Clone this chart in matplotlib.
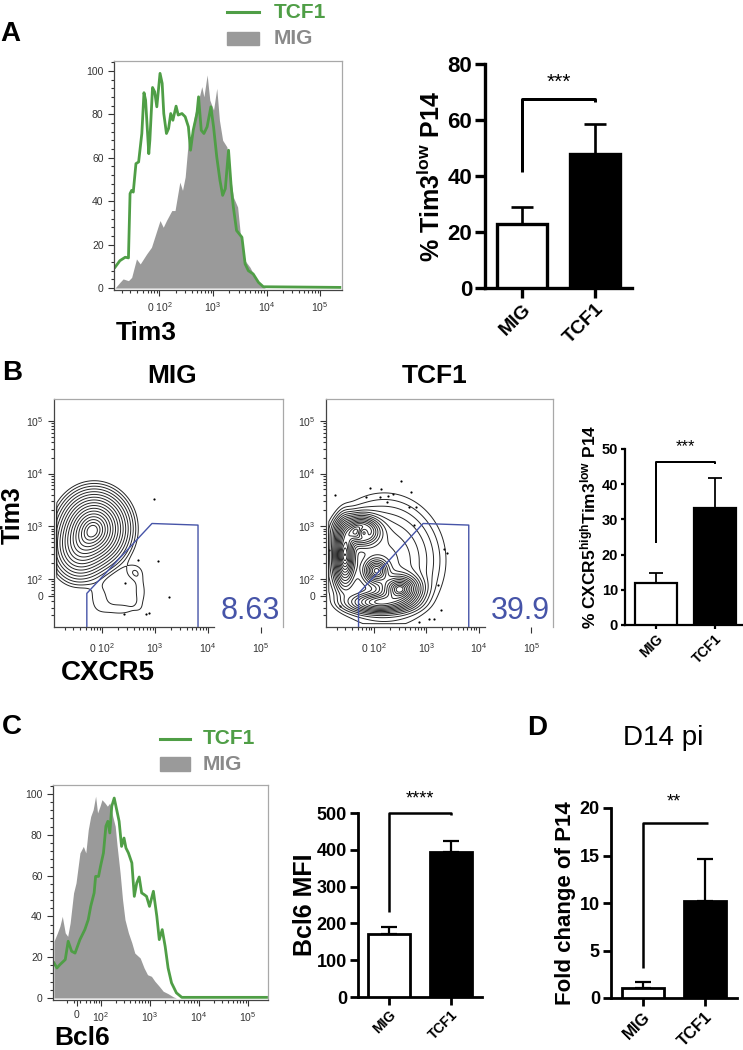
import numpy as np
import matplotlib
matplotlib.use("Agg")
import matplotlib.pyplot as plt
from matplotlib.lines import Line2D
from matplotlib.patches import Rectangle
from matplotlib.ticker import FixedLocator, MultipleLocator

plt.rcParams['font.family'] = ['Liberation Sans', 'DejaVu Sans']
plt.rcParams['mathtext.fontset'] = 'custom'
plt.rcParams['mathtext.rm'] = 'Liberation Sans'
plt.rcParams['mathtext.bf'] = 'Liberation Sans:bold'
plt.rcParams['mathtext.it'] = 'Liberation Sans:italic'

GREEN = '#4f9e46'
GREY = '#9a9a9a'
GATE = '#4654a8'

groups = ['MIG', 'TCF1']

# ---- panel A histogram (x in decades of the biexponential axis, y in % of max)
a_tcf1_x = [1.17, 1.26, 1.36, 1.42, 1.45, 1.48, 1.51, 1.56, 1.61, 1.67, 1.71, 1.74, 1.80, 1.82,
            1.87, 1.91, 1.95, 2.01, 2.05, 2.08, 2.13, 2.17, 2.21, 2.25, 2.31, 2.35, 2.42, 2.48,
            2.54, 2.58, 2.63, 2.70, 2.73, 2.78, 2.83, 2.89, 2.96, 3.01, 3.07, 3.13, 3.18, 3.23,
            3.29, 3.34, 3.38, 3.44, 3.54, 3.60, 3.66, 3.75, 3.85, 3.94, 5.37]
a_tcf1_y = [9.6, 12.6, 14.2, 13.9, 43.5, 45.0, 44.2, 57.3, 58.1, 71.2, 90.0, 86.6, 61.9, 68.1,
            92.4, 90.4, 83.5, 98.9, 94.3, 80.4, 71.2, 73.5, 80.4, 77.3, 83.8, 79.7, 80.4, 78.9,
            74.3, 63.5, 72.7, 80.4, 88.1, 72.7, 71.2, 74.3, 83.5, 74.3, 60.4, 49.6, 42.7, 45.8,
            63.5, 46.5, 37.3, 26.5, 23.4, 11.1, 8.0, 6.5, 2.6, 0.6, 0.3]
a_mig_x = [1.17, 1.26, 1.32, 1.42, 1.48, 1.57, 1.64, 1.76, 1.85, 1.95, 2.01, 2.07, 2.13, 2.23,
           2.29, 2.38, 2.43, 2.48, 2.54, 2.60, 2.66, 2.73, 2.79, 2.83, 2.89, 2.94, 3.01, 3.07,
           3.12, 3.18, 3.26, 3.32, 3.38, 3.46, 3.51, 3.60, 3.69, 3.79, 3.88, 3.97]
a_mig_y = [0.0, 2.6, 4.2, 3.4, 4.9, 13.4, 11.1, 15.7, 18.8, 26.5, 31.1, 28.0, 31.1, 35.7,
           35.7, 48.8, 45.0, 51.2, 68.1, 71.2, 80.4, 86.6, 92.8, 88.1, 98.2, 86.6, 82.0, 92.0,
           77.3, 68.1, 65.0, 52.7, 41.9, 37.3, 25.0, 12.6, 9.6, 4.9, 1.8, 0.3]

# ---- panel A bars
a_mean = [22.8, 47.9]
a_sem = [6.2, 10.5]
a_bracket = [41.4, 67.4, 66.4]

# ---- panel B contour populations (x, y in decades; spread; weight)
b_mig_cx = [1.85, 1.55, 1.95, 2.35, 2.72, 2.60]
b_mig_cy = [2.95, 2.55, 1.62, 1.42, 1.75, 2.12]
b_mig_sx = [0.30, 0.25, 0.15, 0.25, 0.10, 0.12]
b_mig_sy = [0.33, 0.30, 0.20, 0.10, 0.25, 0.12]
b_mig_w = [1.0, 0.35, 0.028, 0.028, 0.028, 0.028]
b_mig_ev_x = [2.98, 2.68, 3.06, 2.43, 3.27, 2.41, 2.83, 2.89]
b_mig_ev_y = [3.51, 2.35, 2.33, 1.91, 1.65, 1.32, 1.32, 1.34]

b_tcf_cx = [1.75, 1.45, 2.05, 2.50, 2.10, 2.20, 1.80]
b_tcf_cy = [2.90, 2.45, 2.15, 1.80, 1.55, 2.35, 2.88]
b_tcf_sx = [0.20, 0.10, 0.13, 0.20, 0.30, 0.55, 0.07]
b_tcf_sy = [0.15, 0.30, 0.13, 0.15, 0.10, 0.60, 0.07]
b_tcf_w = [1.0, 0.9, 0.7, 0.9, 0.6, 0.2, -0.5]
b_tcf_ev_x = [1.26, 1.86, 1.92, 2.14, 2.11, 2.27, 2.36, 2.25, 2.52, 2.71, 2.68, 2.81, 2.77,
              3.34, 3.39, 3.22, 3.29, 2.86, 3.05, 3.15, 1.35, 1.15]
b_tcf_ev_y = [3.59, 3.56, 3.72, 3.70, 3.56, 3.57, 3.62, 3.45, 3.86, 3.65, 3.36, 3.36, 3.02,
              2.56, 2.48, 1.88, 1.40, 1.17, 1.23, 1.23, 1.48, 2.54]

gate_x = [1.71, 1.71, 2.94, 3.81, 3.81]
gate_y = [1.08, 1.72, 3.05, 3.02, 1.08]
b_pct = ['8.63', '39.9']

# ---- panel B bars
b_mean = [11.8, 33.2]
b_sem = [3.0, 8.7]
b_bracket = [23.3, 46.3, 45.7]

# ---- panel C histogram
c_tcf1_x = [1.04, 1.10, 1.16, 1.27, 1.33, 1.40, 1.47, 1.57, 1.67, 1.74, 1.79, 1.86, 1.89, 1.95,
            1.99, 2.05, 2.10, 2.14, 2.18, 2.22, 2.27, 2.32, 2.37, 2.42, 2.47, 2.51, 2.56, 2.63,
            2.68, 2.73, 2.78, 2.83, 2.88, 2.93, 2.99, 3.07, 3.14, 3.19, 3.25, 3.31, 3.37, 3.44,
            3.54, 3.65, 5.38]
c_tcf1_y = [17.2, 14.7, 16.3, 18.8, 27.8, 22.9, 22.0, 28.6, 33.5, 38.4, 44.9, 51.5, 59.6, 59.6,
            64.5, 71.1, 84.2, 86.6, 80.9, 94.0, 98.0, 92.3, 86.6, 74.3, 78.4, 73.5, 71.1, 66.2,
            49.8, 56.4, 59.3, 51.5, 50.7, 49.8, 44.9, 52.3, 40.0, 28.6, 33.5, 25.3, 14.7, 7.4,
            2.5, 0.3, 0.3]
c_mig_x = [1.04, 1.11, 1.16, 1.21, 1.27, 1.32, 1.37, 1.44, 1.49, 1.57, 1.64, 1.69, 1.74, 1.79,
           1.84, 1.89, 1.93, 1.98, 2.02, 2.08, 2.13, 2.18, 2.24, 2.29, 2.33, 2.39, 2.44, 2.49,
           2.56, 2.63, 2.69, 2.80, 2.88, 2.95, 3.03, 3.10, 3.19, 3.27, 3.37, 3.48, 3.54]
c_mig_y = [27.8, 31.9, 35.1, 40.0, 31.9, 30.2, 36.8, 51.5, 56.4, 71.1, 74.3, 71.1, 82.5, 89.0,
           92.3, 98.9, 90.7, 94.0, 97.2, 95.6, 94.0, 95.6, 89.0, 84.2, 74.3, 61.3, 48.2, 38.4,
           31.9, 27.0, 22.0, 19.6, 14.7, 11.4, 10.6, 8.2, 5.7, 3.3, 2.1, 0.5, 0.0]

# ---- panel C and D bars
c_mean = [171, 395]
c_sem = [19, 30]
c_bracket = [231, 500, 495]
d_mean = [1.05, 10.2]
d_sem = [0.65, 4.4]
d_bracket = [3.2, 18.4, 18.4]

W, H = 743, 1050
fig = plt.figure(figsize=(W / 100, H / 100), dpi=100)


def box(l, t, r, b):
    return fig.add_axes([l / W, 1 - b / H, (r - l) / W, (b - t) / H])


def ftext(x, y, s, **kw):
    fig.text(x / W, 1 - y / H, s, **kw)


dec_minor = [d + np.log10(k) for d in (2, 3, 4) for k in range(2, 10)]
low_minor = [1.3, 1.45, 1.58, 1.7, 1.78, 1.85, 1.9, 1.95]
dec_labels = ['$10^3$', '$10^4$', '$10^5$']


def style_flow(ax):
    for s in ('top', 'right'):
        ax.spines[s].set_color('#a8a8a8')
    for s in ('left', 'bottom'):
        ax.spines[s].set_color('#444444')
    for s in ax.spines.values():
        s.set_linewidth(0.9)
    ax.tick_params(which='both', labelsize=7.5, colors='#333333', width=0.8)
    ax.tick_params(which='major', length=4)
    ax.tick_params(which='minor', length=2)


def hist_panel(ax, gx, gy, tx, ty, xlim, ylim, ticks, labels):
    ax.fill_between(gx, gy, 0, color=GREY, lw=0, zorder=1)
    ax.plot(tx, ty, color=GREEN, lw=2.0, zorder=2)
    ax.set_xlim(xlim)
    ax.set_ylim(ylim)
    ax.set_yticks([0, 20, 40, 60, 80, 100])
    ax.yaxis.set_minor_locator(MultipleLocator(4))
    ax.set_xticks(ticks)
    ax.set_xticklabels(labels)
    ax.xaxis.set_minor_locator(FixedLocator(low_minor + dec_minor))
    style_flow(ax)


def contour_panel(ax, cx, cy, sx, sy, w, ev_x, ev_y, pct):
    gx = np.linspace(1.09, 5.42, 400)
    gy = np.linspace(1.08, 5.42, 400)
    X, Y = np.meshgrid(gx, gy)
    Z = np.zeros_like(X)
    for mx, my, ssx, ssy, ww in zip(cx, cy, sx, sy, w):
        Z += ww * np.exp(-0.5 * (((X - mx) / ssx) ** 2 + ((Y - my) / ssy) ** 2))
    Z = np.clip(Z, 0, None)
    Z[X < 1.14] = 0
    Z[Y < 1.14] = 0
    # rings roughly evenly spaced in radius, like probability contours
    radii = np.linspace(2.8, 0.3, 17)
    levels = Z.max() * np.exp(-0.5 * radii ** 2)
    ax.contour(X, Y, Z, levels=levels, colors='#262626', linewidths=0.7)
    ax.scatter(ev_x, ev_y, s=2.5, color='black', lw=0)
    ax.plot(gate_x, gate_y, color=GATE, lw=1.0)
    ax.set_xlim(1.09, 5.415)
    ax.set_ylim(1.08, 5.42)
    ax.set_yticks([1.67, 2, 3, 4, 5])
    ax.set_yticklabels(['0', '$10^2$'] + dec_labels)
    ax.yaxis.set_minor_locator(FixedLocator(low_minor + dec_minor))
    ax.set_xticks([2, 3, 4, 5])
    ax.set_xticklabels(['0 $10^2$'] + dec_labels)
    ax.xaxis.set_minor_locator(FixedLocator(low_minor + dec_minor[:-8]))
    style_flow(ax)
    ax.spines['bottom'].set_bounds(1.09, 4.12)
    ax.tick_params(axis='x', pad=6)
    ax.text(0.985, 0.004, pct, transform=ax.transAxes, ha='right', va='bottom',
            fontsize=22, color=GATE, zorder=5,
            bbox=dict(facecolor='white', edgecolor='none', pad=0.5))


def bar_panel(ax, mean, sem, ytop, yticks, xlim, width, lw, tick_fs, xt_fs, cap,
              bracket, stars, star_y, star_fs, bracket_right=1.0, tick_len=None):
    ax.bar([0, 1], mean, width=width, color=['white', 'black'], edgecolor='black',
           linewidth=lw, zorder=3)
    ax.errorbar([0, 1], mean, yerr=[[0, 0], sem], fmt='none', ecolor='black',
                elinewidth=lw * 0.8, capsize=cap, capthick=lw * 0.8, zorder=2)
    ax.plot([0, 0, bracket_right, bracket_right],
            [bracket[0], bracket[1], bracket[1], bracket[2]],
            color='black', lw=lw * 0.9, clip_on=False, solid_capstyle='butt')
    ax.text(0.5, star_y, stars, ha='center', va='center', fontsize=star_fs)
    ax.set_xlim(xlim)
    ax.set_ylim(0, ytop)
    for s in ('top', 'right'):
        ax.spines[s].set_visible(False)
    for s in ('left', 'bottom'):
        ax.spines[s].set_linewidth(lw)
    ax.set_yticks(yticks)
    ax.set_yticklabels([str(v) for v in yticks], fontsize=tick_fs, fontweight='bold')
    ax.set_xticks([0, 1])
    ax.set_xticklabels(groups, rotation=45, ha='right', rotation_mode='anchor',
                       fontsize=xt_fs, fontweight='bold')
    ax.tick_params(length=tick_len if tick_len else lw * 3, width=lw, pad=2)


# ---------------- panel A
axA = box(114, 61, 342, 290)
hist_panel(axA, a_mig_x, a_mig_y, a_tcf1_x, a_tcf1_y, (1.15, 5.41), (-0.9, 104.6),
           [2, 3, 4, 5], ['0 $10^2$'] + dec_labels)
axAb = box(485, 64, 632, 288)
bar_panel(axAb, a_mean, a_sem, 80, [0, 20, 40, 60, 80], (-0.507, 1.507), 0.685, 2.4,
          16, 14, 8, a_bracket, '***', 73.6, 15)

# ---------------- panel B
axB1 = box(54, 399, 283, 627)
contour_panel(axB1, b_mig_cx, b_mig_cy, b_mig_sx, b_mig_sy, b_mig_w,
              b_mig_ev_x, b_mig_ev_y, b_pct[0])
axB2 = box(326, 399, 553, 627)
contour_panel(axB2, b_tcf_cx, b_tcf_cy, b_tcf_sx, b_tcf_sy, b_tcf_w,
              b_tcf_ev_x, b_tcf_ev_y, b_pct[1])
axBb = box(625, 449, 742, 625)
bar_panel(axBb, b_mean, b_sem, 50, [0, 10, 20, 30, 40, 50], (-0.525, 1.458), 0.72, 1.6,
          10.5, 10, 5, b_bracket, '***', 50.6, 12, tick_len=3)

# ---------------- panel C
axC = box(53, 785, 268, 1000)
hist_panel(axC, c_mig_x, c_mig_y, c_tcf1_x, c_tcf1_y, (1.02, 5.41), (-1.0, 104.4),
           [1.5, 2, 3, 4, 5], ['0', '$10^2$'] + dec_labels)
axCb = box(358, 813, 482, 997)
bar_panel(axCb, c_mean, c_sem, 500, [0, 100, 200, 300, 400, 500], (-0.5, 1.5), 0.69, 2.0,
          13, 10, 6, c_bracket, '****', 538, 13)

# ---------------- panel D
axD = box(611, 808, 737, 998)
bar_panel(axD, d_mean, d_sem, 20, [0, 5, 10, 15, 20], (-0.516, 1.516), 0.69, 2.0,
          13, 12, 6, d_bracket, '**', 20.6, 13, bracket_right=1.05)

# ---------------- labels
ftext(10, 34, 'A', fontsize=20, fontweight='bold', ha='center', va='center')
ftext(12, 373, 'B', fontsize=20, fontweight='bold', ha='center', va='center')
ftext(12, 727, 'C', fontsize=20, fontweight='bold', ha='center', va='center')
ftext(537, 728, 'D', fontsize=20, fontweight='bold', ha='center', va='center')

ftext(146, 333, 'Tim3', fontsize=19, fontweight='bold', ha='center', va='center')
ftext(431, 177, r'% Tim3$^{\mathbf{low}}$ P14', fontsize=18, fontweight='bold',
      rotation=90, ha='center', va='center')

ftext(172, 376, 'MIG', fontsize=19, fontweight='bold', ha='center', va='center')
ftext(435, 376, 'TCF1', fontsize=19, fontweight='bold', ha='center', va='center')
ftext(13, 515, 'Tim3', fontsize=18, fontweight='bold', rotation=90, ha='center', va='center')
ftext(108, 673, 'CXCR5', fontsize=20, fontweight='bold', ha='center', va='center')
ftext(588, 527, r'% CXCR5$^{\mathbf{high}}$Tim3$^{\mathbf{low}}$ P14', fontsize=12.5,
      fontweight='bold', rotation=90, ha='center', va='center')

ftext(82, 1038, 'Bcl6', fontsize=19, fontweight='bold', ha='center', va='center')
ftext(305, 905, 'Bcl6 MFI', fontsize=18, fontweight='bold', rotation=90,
      ha='center', va='center')
ftext(663, 738, 'D14 pi', fontsize=20, ha='center', va='center')
ftext(565, 903, 'Fold change of P14', fontsize=16, fontweight='bold', rotation=90,
      ha='center', va='center')


# legends drawn in figure pixels
def legend(x0, x1, y_line, y_patch0, y_patch1, x_text):
    fig.add_artist(Line2D([x0 / W, x1 / W], [1 - y_line / H] * 2, color=GREEN, lw=2.2,
                          transform=fig.transFigure))
    fig.add_artist(Rectangle((x0 / W, 1 - y_patch1 / H), (x1 - x0) / W,
                             (y_patch1 - y_patch0) / H, color=GREY,
                             transform=fig.transFigure))
    ftext(x_text, y_line, 'TCF1', fontsize=15, fontweight='bold', color=GREEN,
          ha='left', va='center')
    ftext(x_text, (y_patch0 + y_patch1) / 2, 'MIG', fontsize=15, fontweight='bold',
          color='#8a8a8a', ha='left', va='center')


legend(227, 259, 12, 32, 45, 274)
legend(160, 190, 739, 757, 771, 203)

fig.savefig('out.png', dpi=100)
